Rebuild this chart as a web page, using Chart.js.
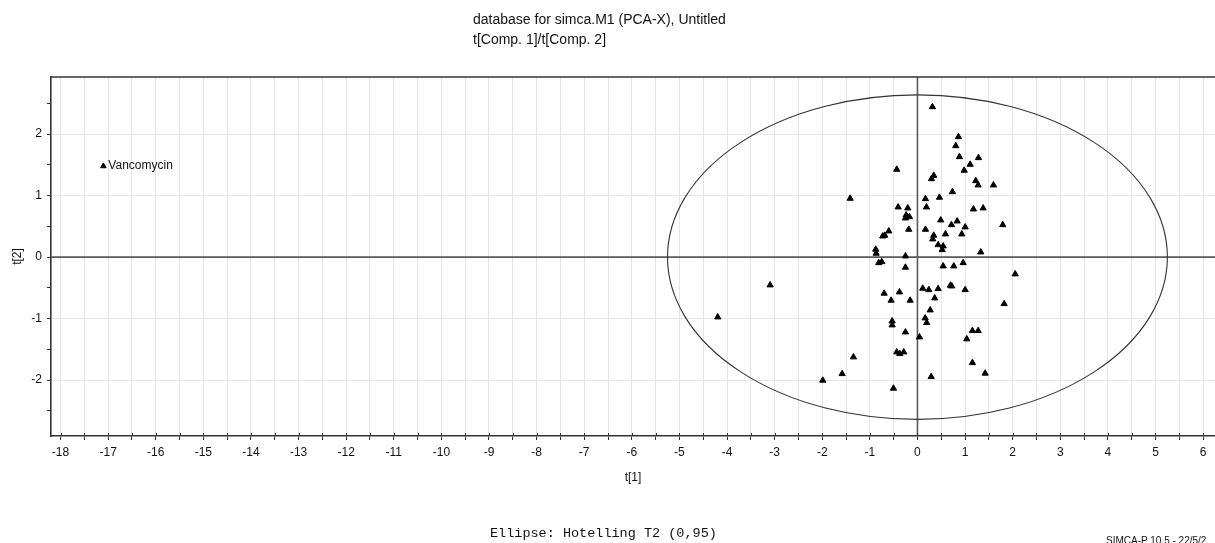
<!DOCTYPE html>
<html>
<head>
<meta charset="utf-8">
<title>t[Comp. 1]/t[Comp. 2]</title>
<script src="https://cdn.jsdelivr.net/npm/chart.js@4/dist/chart.umd.min.js"></script>
<style>
  html, body { margin: 0; padding: 0; background: #fff; overflow: hidden; }
  #wrap { position: relative; width: 1215px; height: 543px; overflow: hidden; }
  #scoreChart { position: absolute; left: 0; top: 0; }
  .txt { position: absolute; white-space: nowrap; color: #111; }
  #title { left: 473px; top: 9px; font: 14px "Liberation Sans", Arial, sans-serif; line-height: 20px; }
  #ellipseNote { left: 490px; top: 526px; font: 13.5px "Liberation Mono", "Courier New", monospace; }
  #stamp { left: 1106px; top: 535px; font: 10px "Liberation Sans", Arial, sans-serif; }
</style>
</head>
<body>
<div id="wrap">
  <!-- plot is wider than the window, its right edge runs off the page -->
  <canvas id="scoreChart" width="1220" height="543"></canvas>
  <div class="txt" id="title">database for simca.M1 (PCA-X), Untitled<br>t[Comp. 1]/t[Comp. 2]</div>
  <div class="txt" id="ellipseNote">Ellipse: Hotelling T2 (0,95)</div>
  <div class="txt" id="stamp">SIMCA-P 10.5 - 22/5/2</div>
</div>
<script>
// score values t[1], t[2] per observation
const scoresT1 = [
  0.315, 0.861, 0.805, 0.882, 1.282, 1.107, 0.981, -0.435, 0.342, 0.294,
  1.225, 1.275, 1.597, 0.735, -1.414, 0.168, 0.462, -0.405, -0.204, 0.189,
  1.176, 1.380, -0.237, -0.168, -0.252, 0.489, 0.834, 0.714, 1.002, 1.792,
  -0.603, -0.183, 0.168, -0.687, -0.729, 0.342, 0.321, 0.588, 0.931, 0.435,
  0.540, 0.519, -0.876, -0.868, -0.252, 1.330, -0.813, -0.750, -0.252, 0.540,
  0.763, 0.960, 2.053, -0.700, -0.378, -0.553, -0.153, 0.111, 0.237, 0.435,
  0.693, 0.721, 1.002, 0.363, 1.821, 0.267, -0.532, -0.532, 0.162, 0.195,
  -0.252, 0.042, 1.155, 1.275, 1.036, -1.345, -0.435, -0.372, -0.288, -1.582,
  1.155, 1.422, 0.288, -0.504, -3.095, -4.195, -1.989
];
const scoresT2 = [
  2.444, 1.956, 1.810, 1.631, 1.615, 1.507, 1.410, 1.426, 1.328, 1.273,
  1.241, 1.171, 1.171, 1.062, 0.954, 0.948, 0.971, 0.813, 0.797, 0.813,
  0.780, 0.797, 0.683, 0.655, 0.634, 0.602, 0.585, 0.525, 0.488, 0.525,
  0.423, 0.450, 0.450, 0.353, 0.341, 0.353, 0.293, 0.374, 0.374, 0.200,
  0.179, 0.119, 0.125, 0.060, 0.016, 0.081, -0.093, -0.076, -0.167, -0.146,
  -0.146, -0.093, -0.276, -0.590, -0.569, -0.704, -0.704, -0.509, -0.532, -0.515,
  -0.460, -0.472, -0.532, -0.667, -0.759, -0.862, -1.041, -1.106, -0.992, -1.068,
  -1.220, -1.301, -1.198, -1.198, -1.333, -1.626, -1.545, -1.572, -1.545, -1.898,
  -1.719, -1.891, -1.946, -2.135, -0.455, -0.976, -2.005
];

// labelled outlier
const outlierNames = ['Vancomycin'];
const outlierT1 = [-17.10];
const outlierT2 = [1.48];

// Hotelling T2 (0.95) ellipse semi-axes in score units
const ellipseT1 = 5.25;
const ellipseT2 = 2.64;

const FONT = '"Liberation Sans", Arial, sans-serif';

const scorePoints = scoresT1.map((v, i) => ({ x: v, y: scoresT2[i] }));
const outlierPoints = outlierT1.map((v, i) => ({ x: v, y: outlierT2[i] }));

const isWhole = v => Math.abs(v - Math.round(v)) < 1e-6;

// origin lines, ellipse and top frame, drawn under the markers
const scorePlotDecor = {
    id: 'scorePlotDecor',
    beforeDatasetsDraw(chart) {
        const { ctx, chartArea, scales } = chart;
        const xs = scales.x, ys = scales.y;
        const x0 = xs.getPixelForValue(0);
        const y0 = ys.getPixelForValue(0);

        ctx.save();
        ctx.beginPath();
        ctx.rect(chartArea.left, chartArea.top, chartArea.right - chartArea.left, chartArea.bottom - chartArea.top);
        ctx.clip();

        ctx.strokeStyle = '#5a5a5a';
        ctx.lineWidth = 1.6;
        ctx.beginPath();
        ctx.moveTo(x0, chartArea.top);
        ctx.lineTo(x0, chartArea.bottom);
        ctx.moveTo(chartArea.left, y0);
        ctx.lineTo(chartArea.right, y0);
        ctx.stroke();

        const rx = xs.getPixelForValue(ellipseT1) - x0;
        const ry = y0 - ys.getPixelForValue(ellipseT2);
        ctx.strokeStyle = '#333';
        ctx.lineWidth = 1.1;
        ctx.beginPath();
        ctx.ellipse(x0, y0, rx, ry, 0, 0, Math.PI * 2);
        ctx.stroke();
        ctx.restore();

        // top frame line
        ctx.save();
        ctx.strokeStyle = '#333';
        ctx.lineWidth = 1.6;
        ctx.beginPath();
        ctx.moveTo(chartArea.left, chartArea.top);
        ctx.lineTo(chartArea.right, chartArea.top);
        ctx.stroke();

        // short tick stubs inside the bottom axis
        ctx.lineWidth = 1;
        ctx.beginPath();
        xs.ticks.forEach(t => {
            const px = Math.round(xs.getPixelForValue(t.value)) + 0.5;
            ctx.moveTo(px, chartArea.bottom);
            ctx.lineTo(px, chartArea.bottom - 3);
        });
        ctx.stroke();
        ctx.restore();
    },
    afterDatasetsDraw(chart) {
        const { ctx } = chart;
        const meta = chart.getDatasetMeta(1);
        ctx.save();
        ctx.fillStyle = '#111';
        ctx.font = '12px ' + FONT;
        ctx.textBaseline = 'middle';
        meta.data.forEach((pt, i) => {
            ctx.fillText(outlierNames[i], pt.x + 5, pt.y);
        });
        ctx.restore();
    }
};

const ctx = document.getElementById('scoreChart').getContext('2d');
new Chart(ctx, {
    type: 'scatter',
    data: {
        datasets: [
            {
                label: 'Observations',
                data: scorePoints,
                pointStyle: 'triangle',
                pointRadius: 3.6,
                pointBorderWidth: 1,
                backgroundColor: '#000',
                borderColor: '#000'
            },
            {
                label: 'Outliers',
                data: outlierPoints,
                pointStyle: 'triangle',
                pointRadius: 3.2,
                pointBorderWidth: 1,
                backgroundColor: '#000',
                borderColor: '#000'
            }
        ]
    },
    options: {
        responsive: false,
        animation: false,
        events: [],
        layout: { padding: { top: 77, left: 0, right: 0, bottom: 0 } },
        plugins: {
            legend: { display: false },
            tooltip: { enabled: false }
        },
        scales: {
            x: {
                type: 'linear',
                min: -18.2,
                max: 6.25,
                afterFit(scale) {
                    scale.height = 107;
                },
                ticks: {
                    stepSize: 0.5,
                    includeBounds: false,
                    autoSkip: false,
                    maxRotation: 0,
                    padding: 5,
                    color: '#111',
                    font: { family: FONT, size: 12 },
                    callback: v => isWhole(v) ? String(Math.round(v)) : ''
                },
                grid: {
                    color: '#e6e6e6',
                    lineWidth: 1,
                    tickLength: 4,
                    tickColor: '#333',
                    drawOnChartArea: true
                },
                border: { color: '#333', width: 1.6 },
                title: {
                    display: true,
                    text: 't[1]',
                    color: '#111',
                    font: { family: FONT, size: 12 },
                    padding: { top: 0, bottom: 58 }
                }
            },
            y: {
                type: 'linear',
                min: -2.91,
                max: 2.93,
                afterFit(scale) {
                    scale.width = 51;
                },
                ticks: {
                    stepSize: 0.5,
                    includeBounds: false,
                    autoSkip: false,
                    padding: 5,
                    color: '#111',
                    font: { family: FONT, size: 12 },
                    callback: v => isWhole(v) ? String(Math.round(v)) : ''
                },
                grid: {
                    color: c => (c.tick && isWhole(c.tick.value)) ? '#e6e6e6' : 'rgba(0,0,0,0)',
                    lineWidth: 1,
                    tickLength: 4,
                    tickColor: '#333'
                },
                border: { color: '#333', width: 1.6 },
                title: {
                    display: true,
                    text: 't[2]',
                    color: '#111',
                    font: { family: FONT, size: 12 },
                    padding: { top: 10, bottom: 0 }
                }
            }
        }
    },
    plugins: [scorePlotDecor]
});
</script>
</body>
</html>
